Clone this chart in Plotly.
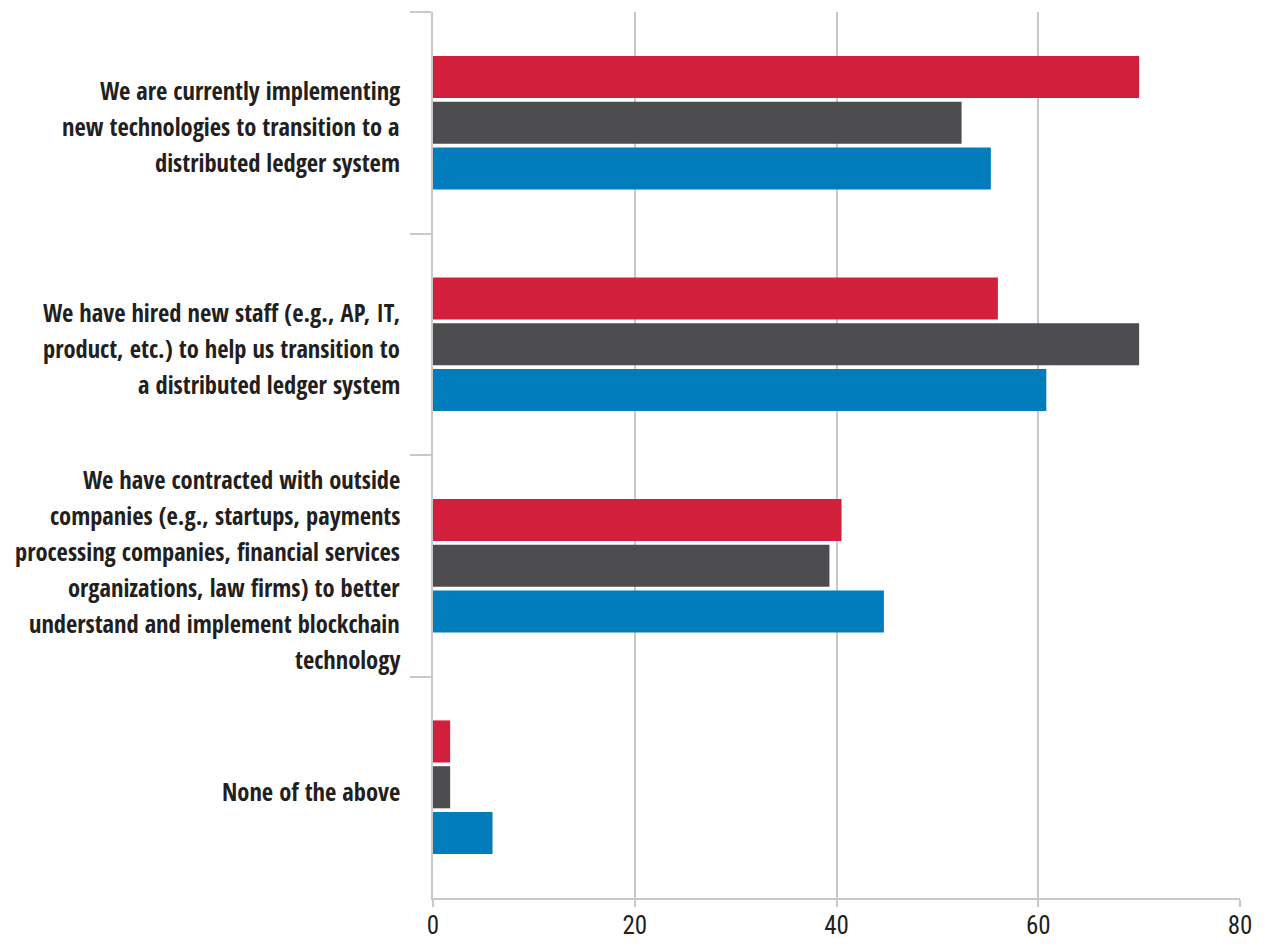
import plotly.graph_objects as go

categories = [
    "We are currently implementing<br>new technologies to transition to a<br>distributed ledger system",
    "We have hired new staff (e.g., AP, IT,<br>product, etc.) to help us transition to<br>a distributed ledger system",
    "We have contracted with outside<br>companies (e.g., startups, payments<br>processing companies, financial services<br>organizations, law firms) to better<br>understand and implement blockchain<br>technology",
    "None of the above",
]
series_names = ["Series 1", "Series 2", "Series 3"]
series_values = [
    [70, 56, 40.5, 1.7],
    [52.4, 70, 39.3, 1.7],
    [55.3, 60.8, 44.7, 5.9],
]
series_colors = ["#D21F3C", "#4D4D4F", "#007DBA"]
x_ticks = [0, 20, 40, 60, 80]

fig = go.Figure()
for name, vals, col in zip(series_names, series_values, series_colors):
    fig.add_trace(go.Bar(y=categories, x=vals, name=name, orientation="h",
                         marker=dict(color=col, line=dict(width=0))))

label_font = dict(family="Open Sans Condensed, Roboto Condensed, sans-serif",
                  size=24.5, color="#231F20", weight="bold")

# category labels as right-aligned lines with generous line spacing
line_gap = 36
for cat in categories:
    lines = cat.split("<br>")
    n = len(lines)
    for k, ln in enumerate(lines):
        fig.add_annotation(
            x=0, xref="paper", y=cat, yref="y", text=ln, showarrow=False,
            xanchor="right", yanchor="middle", xshift=-31,
            yshift=((n - 1) / 2 - k) * line_gap - 4, font=label_font,
        )

grid = "#C8C8C8"
fig.update_layout(
    width=1266, height=945,
    margin=dict(l=433, r=26, t=12, b=47),
    paper_bgcolor="white", plot_bgcolor="white",
    barmode="group", bargap=0.38, bargroupgap=0.08,
    showlegend=False,
    xaxis=dict(range=[0, 80], tickvals=x_ticks, showgrid=True, gridcolor=grid, gridwidth=1.5,
               zeroline=False, showline=True, linecolor=grid, linewidth=1.5,
               ticks="outside", ticklen=7, tickcolor=grid, tickwidth=1.5, automargin=False,
               ticklabelstandoff=-3,
               tickfont=dict(family="Roboto Condensed, Roboto", size=25, color="#231F20")),
    yaxis=dict(autorange="reversed", type="category", showline=True, linecolor=grid, linewidth=1.5,
               ticks="outside", tickson="boundaries", ticklen=21, tickcolor=grid, tickwidth=1.5,
               showgrid=False, showticklabels=False, automargin=False),
)

fig.write_html("out.html")
